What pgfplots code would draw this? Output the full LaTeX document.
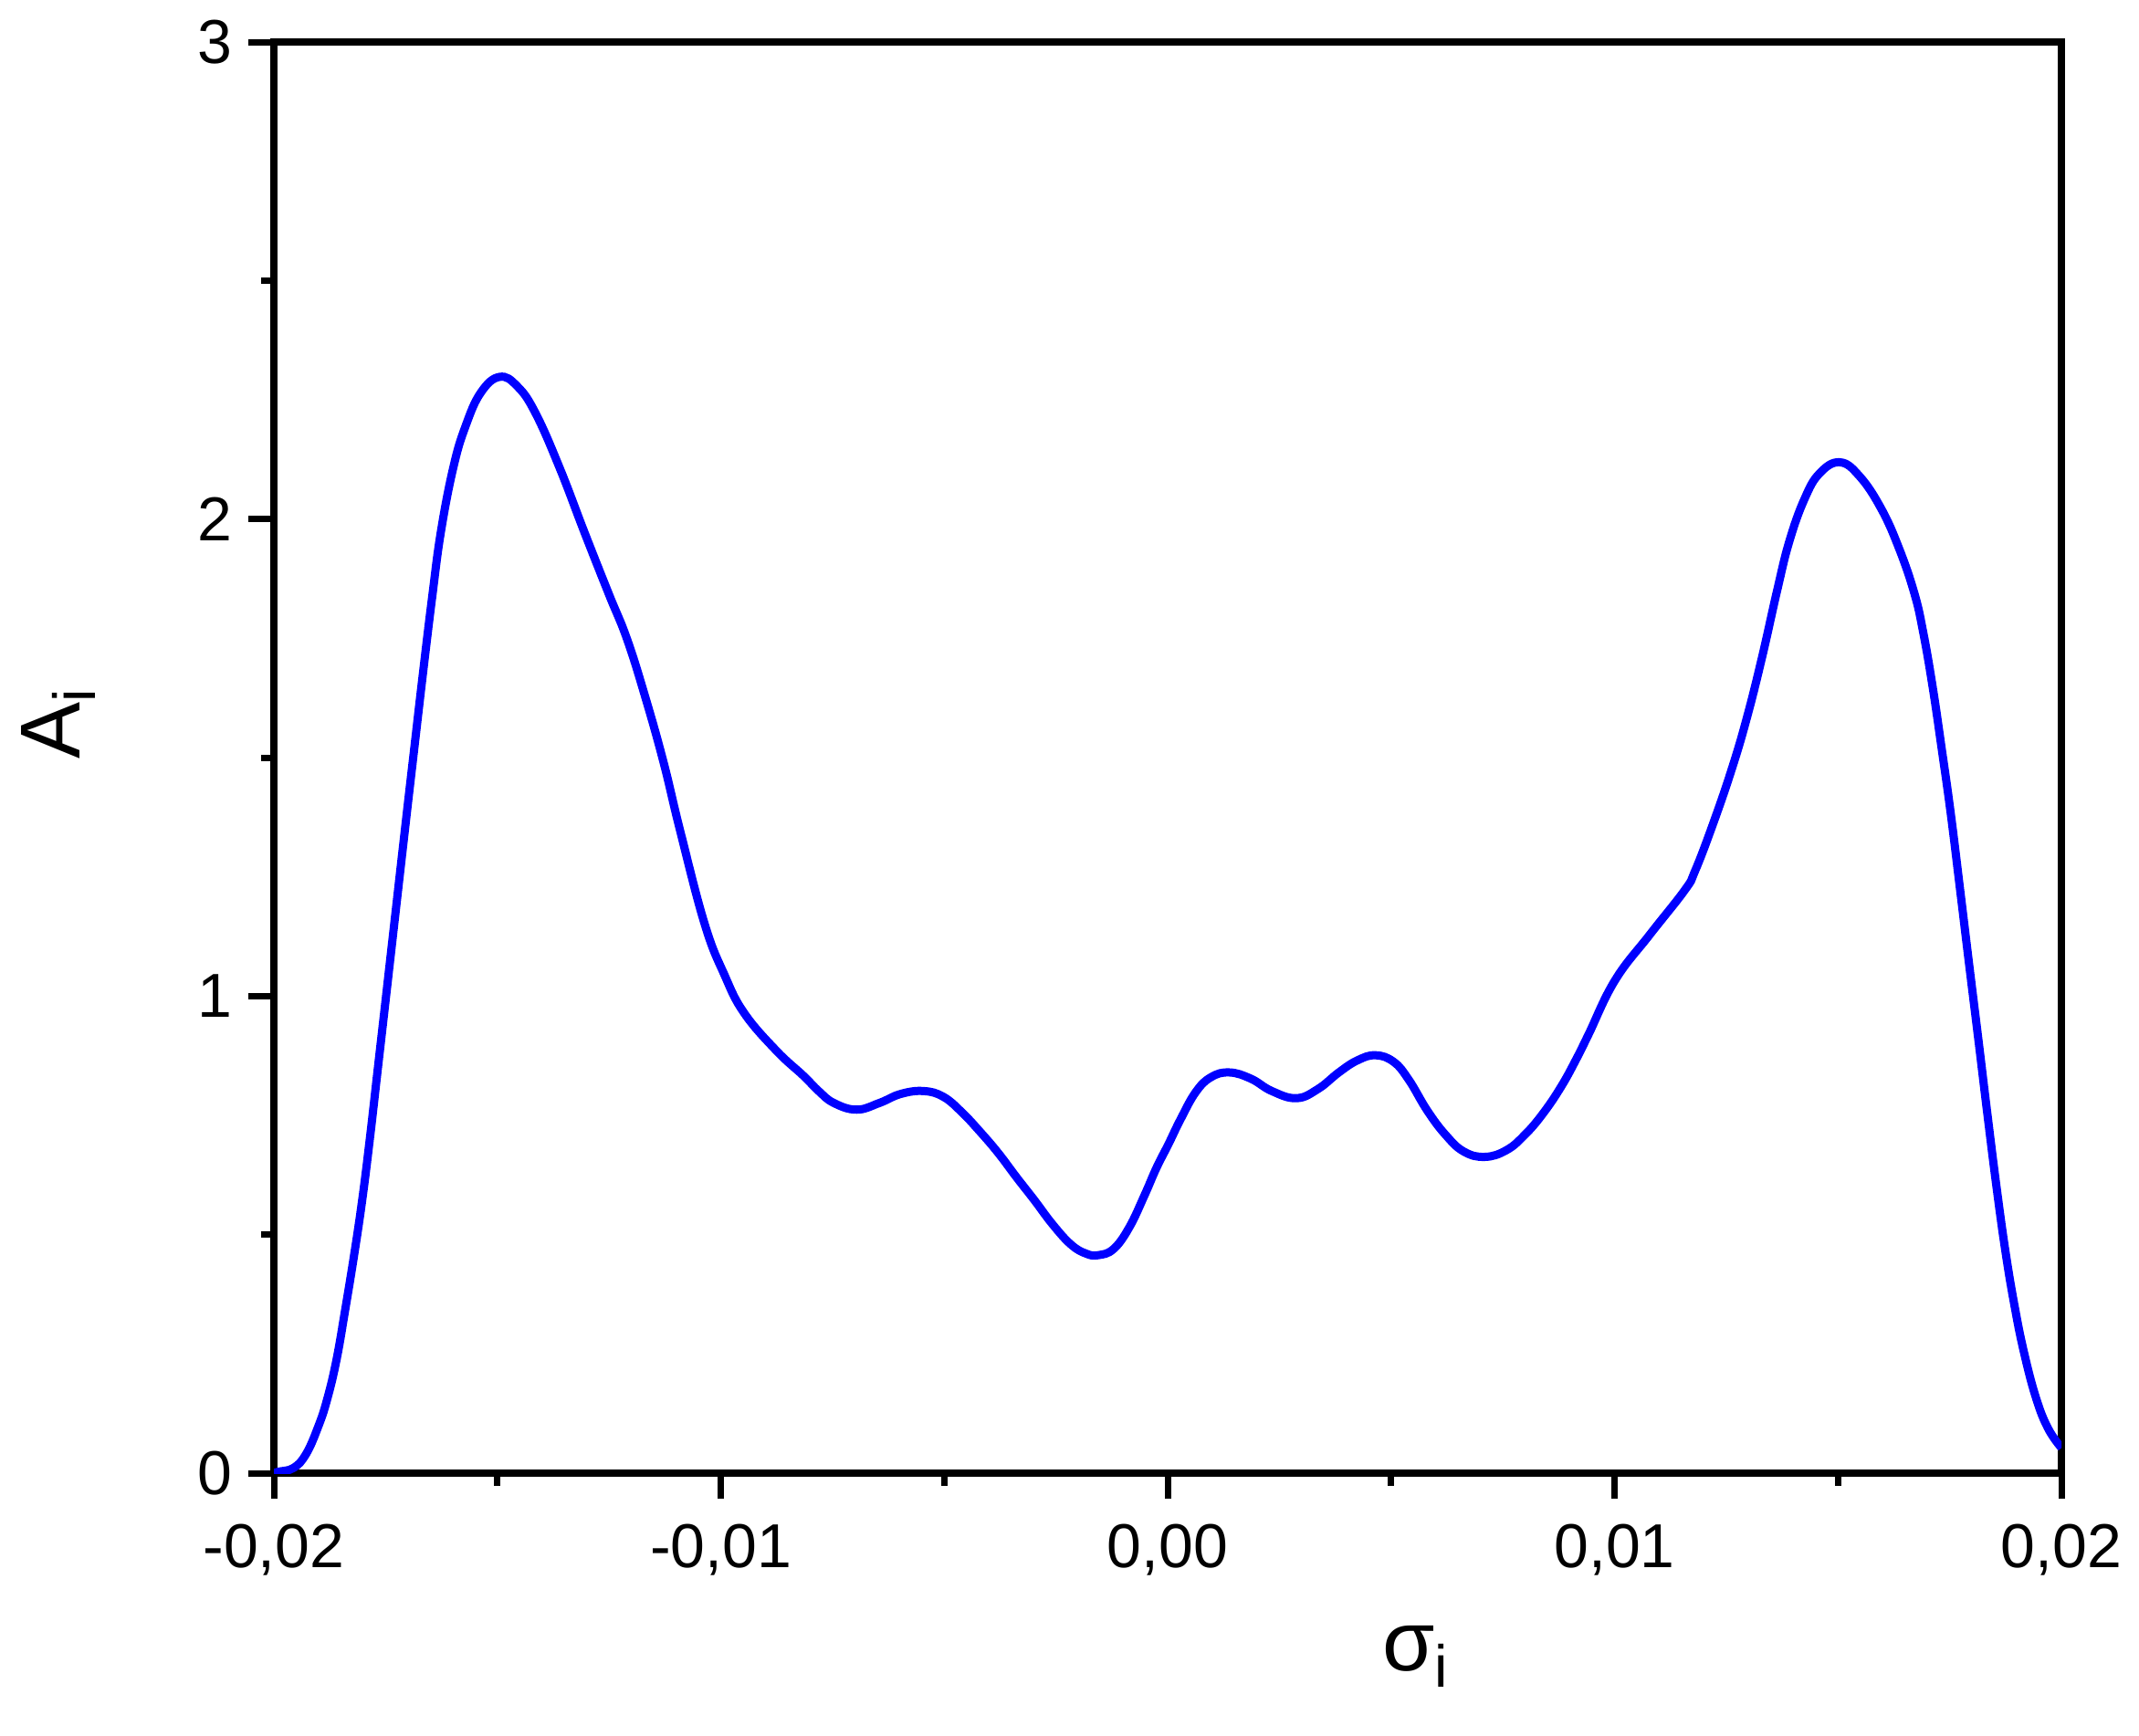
\documentclass[border=0pt]{standalone}
\usepackage{fontspec}
\setmainfont{Liberation Sans}
\usepackage{pgfplots}
\pgfplotsset{compat=1.18}
\begin{document}
\begin{tikzpicture}
\begin{axis}[
  name=ax,
  scale only axis,
  width=391.6pt, height=313.6pt,
  xmin=-0.02, xmax=0.02, ymin=0, ymax=3,
  xtick={-0.02,-0.01,0,0.01,0.02},
  xticklabels={{-0,02},{-0,01},{0,00},{0,01},{0,02}},
  ytick={0,1,2,3},
  yticklabels={0,1,2,3},
  minor x tick num=1, minor y tick num=1,
  tick align=outside,
  xtick pos=bottom, ytick pos=left,
  major tick length=5.6pt, minor tick length=2.8pt,
  axis line style={line width=1.6pt},
  every tick/.style={line width=1.4pt, black},
  tick label style={font=\fontsize{13.6}{16}\selectfont},
  xticklabel style={yshift=-2pt},
  label style={font=\fontsize{18.6}{22}\selectfont},
  xlabel={σ\textsubscript{i}},
  ylabel={A\textsubscript{i}},
  xlabel style={at={(axis description cs:0.639,-0.128)}, anchor=center},
  ylabel style={at={(axis description cs:-0.1205,0.524)}, anchor=center},
  scaled x ticks=false,
]
\addplot[color={rgb,255:red,0;green,0;blue,255}, line width=1.8pt, smooth, tension=0.7] coordinates {
(-0.02,0.0) (-0.0199,0.003) (-0.01956,0.011) (-0.01928,0.040) (-0.01901,0.097)
(-0.01881,0.154) (-0.0186,0.237) (-0.0184,0.345) (-0.0182,0.460) (-0.01802,0.575)
(-0.01785,0.703) (-0.01769,0.835) (-0.01751,0.983) (-0.01707,1.347) (-0.01687,1.51)
(-0.01666,1.68) (-0.01646,1.835) (-0.01626,1.975) (-0.01598,2.11) (-0.01571,2.195)
(-0.01537,2.265) (-0.01495,2.298) (-0.01455,2.278) (-0.01414,2.221) (-0.0136,2.106)
(-0.01305,1.972) (-0.01251,1.844) (-0.0121,1.749) (-0.01169,1.627) (-0.01128,1.490)
(-0.01091,1.347) (-0.01036,1.151) (-0.00992,1.045) (-0.00948,0.965) (-0.00876,0.886)
(-0.00815,0.833) (-0.00781,0.801) (-0.00747,0.776) (-0.00696,0.762) (-0.00645,0.776)
(-0.00597,0.795) (-0.00546,0.801) (-0.00502,0.789) (-0.00461,0.757) (-0.0042,0.716)
(-0.00379,0.671) (-0.00338,0.620) (-0.00298,0.572) (-0.00257,0.521) (-0.00216,0.479)
(-0.00182,0.460) (-0.00155,0.457) (-0.00121,0.470) (-0.00086,0.515) (-0.00052,0.582)
(-0.00025,0.640) (0.00002,0.69) (0.00029,0.742) (0.00063,0.799) (0.00097,0.830)
(0.00138,0.840) (0.00186,0.827) (0.00233,0.801) (0.00288,0.786) (0.00336,0.805)
(0.00383,0.840) (0.00424,0.865) (0.00465,0.876) (0.00506,0.862) (0.0054,0.824)
(0.00581,0.760) (0.00622,0.709) (0.00663,0.674) (0.0071,0.663) (0.00758,0.677)
(0.00799,0.709) (0.0084,0.754) (0.00881,0.811) (0.00915,0.869) (0.00942,0.920)
(0.01001,1.033) (0.01079,1.129) (0.01157,1.222) (0.0118,1.262) (0.0122,1.360)
(0.01262,1.475) (0.01296,1.583) (0.0133,1.710) (0.01364,1.851) (0.01391,1.953)
(0.01425,2.042) (0.01459,2.096) (0.01504,2.119) (0.01548,2.090) (0.01596,2.023)
(0.01636,1.940) (0.01671,1.844) (0.01691,1.761) (0.01712,1.647) (0.01732,1.519)
(0.01752,1.385) (0.01773,1.225) (0.01793,1.070) (0.01814,0.910) (0.01834,0.755)
(0.01855,0.598) (0.01875,0.463) (0.01895,0.351) (0.01916,0.254) (0.01943,0.158)
(0.0197,0.094) (0.02,0.053)
};
\end{axis}
\pgfresetboundingbox
\path[use as bounding box] ([shift={(-60pt,-57.4pt)}]ax.south west) rectangle ([shift={(17pt,9.2pt)}]ax.north east);
\end{tikzpicture}
\end{document}
